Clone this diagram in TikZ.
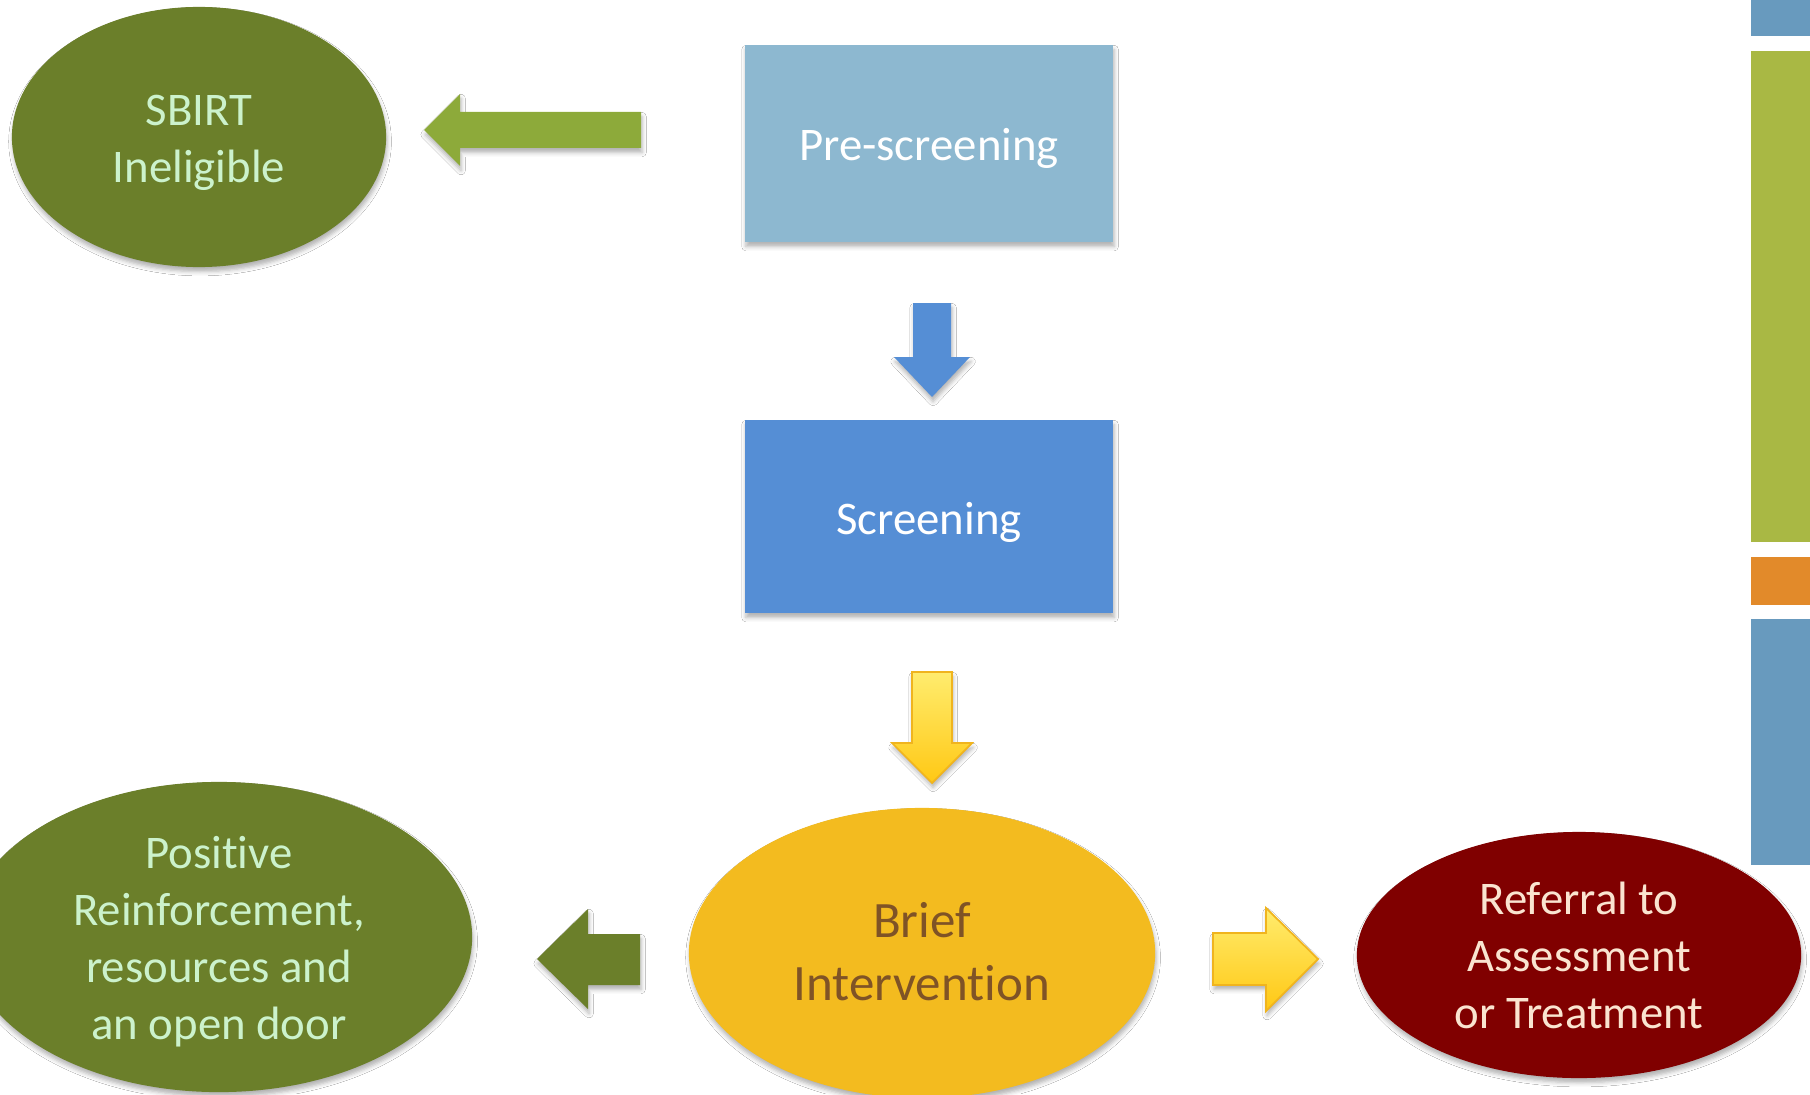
\documentclass[tikz,border=0pt]{standalone}
\usepackage{fontspec}
\setmainfont{Carlito}[Ligatures={NoCommon,NoContextual,NoRare}, Contextuals=NoAlternate]
\usetikzlibrary{shapes.geometric,shadows.blur}

\definecolor{sbOlive}{RGB}{107,127,42}
\definecolor{sbLime}{RGB}{141,170,58}
\definecolor{sbMint}{RGB}{204,242,204}
\definecolor{sbSky}{RGB}{141,184,208}
\definecolor{sbBlue}{RGB}{85,142,213}
\definecolor{sbGold}{RGB}{243,187,31}
\definecolor{sbBrown}{RGB}{127,83,38}
\definecolor{sbYellowTop}{RGB}{255,236,110}
\definecolor{sbYellowBot}{RGB}{255,200,20}
\definecolor{sbYellowEdge}{RGB}{240,180,30}
\definecolor{sbMaroon}{RGB}{128,0,0}
\definecolor{sbPeach}{RGB}{250,228,208}
\definecolor{sbBarBlue}{RGB}{104,154,190}
\definecolor{sbBarGreen}{RGB}{169,184,68}
\definecolor{sbBarOrange}{RGB}{226,138,42}

\tikzset{
  soft/.style={blur shadow={shadow xshift=0.3pt, shadow yshift=-1.3pt,
      shadow blur radius=1.2pt, shadow opacity=30}},
  basetext/.style={align=center, inner sep=0pt,
      font=\fontsize{13.3pt}{16.2pt}\selectfont},
  stepbox/.style={rectangle, soft, inner sep=0pt},
  oval/.style={ellipse, soft, inner sep=0pt},
  goldarrow/.style={soft, top color=sbYellowTop, bottom color=sbYellowBot,
      draw=sbYellowEdge, line width=0.5pt, line join=miter},
}

\begin{document}
\begin{tikzpicture}[x=0.01cm, y=-0.01cm]
  % page area
  \fill[white] (0,0) rectangle (1810,1094);
  \clip (0,0) rectangle (1810,1094);

  % colour bars along the right edge
  \fill[sbBarBlue]   (1751,0)   rectangle (1810,36);
  \fill[sbBarGreen]  (1751,51)  rectangle (1810,542);
  \fill[sbBarOrange] (1751,557) rectangle (1810,605);
  \fill[sbBarBlue]   (1751,619) rectangle (1810,865);

  % process steps
  \node[stepbox, fill=sbSky, minimum width=3.68cm, minimum height=1.97cm]
    (pre) at (929,143.5) {};
  \node[basetext, text=white] (pre-t) at ([yshift=-1.3pt]pre.center) {Pre-screening};
  \node[stepbox, fill=sbBlue, minimum width=3.68cm, minimum height=1.93cm]
    (screen) at (929,516.5) {};
  \node[basetext, text=white] (screen-t) at ([yshift=-1.6pt]screen.center) {Screening};

  % outcomes
  \node[oval, fill=sbOlive, minimum width=3.74cm, minimum height=2.60cm]
    (inelig) at (199,137) {};
  \node[basetext, text=sbMint] (inelig-t) at ([yshift=-1.6pt]inelig.center)
    {SBIRT\\Ineligible};
  \node[oval, fill=sbGold, minimum width=4.66cm, minimum height=2.90cm]
    (brief) at (922,953) {};
  % the kern keeps t and i as separate glyphs
  \node[basetext, text=sbBrown, font=\fontsize{14.5pt}{18.0pt}\selectfont]
    (brief-t) at ([yshift=0.3pt]brief.center) {Brief\\Interven\kern0pt tion};
  \node[oval, fill=sbOlive, minimum width=5.06cm, minimum height=3.10cm]
    (positive) at (219,937) {};
  \node[basetext, text=sbMint] (positive-t) at ([yshift=-1.3pt]positive.center)
    {Positive\\Reinforcement,\\resources and\\an open door};
  \node[oval, fill=sbMaroon, minimum width=4.44cm, minimum height=2.46cm]
    (referral) at (1579,955) {};
  \node[basetext, text=sbPeach] (referral-t) at (referral.center)
    {Referral to\\Assessment\\or Treatment};

  % block arrows between the steps
  % pre-screening -> ineligible
  \fill[sbLime, soft] (424,130) -- (460,94) -- (460,112) -- (641,112)
    -- (641,148) -- (460,148) -- (460,166) -- cycle;
  % pre-screening -> screening
  \fill[sbBlue, soft] (913,303) -- (951,303) -- (951,357) -- (970,357)
    -- (932,397) -- (894,357) -- (913,357) -- cycle;
  % screening -> brief intervention
  \shade[goldarrow] (912,672) -- (952,672) -- (952,743) -- (972,743)
    -- (932,783) -- (892,743) -- (912,743) -- cycle;
  % brief intervention -> positive reinforcement
  \fill[sbOlive, soft] (537,959) -- (588,909) -- (588,934) -- (640,934)
    -- (640,985) -- (588,985) -- (588,1009) -- cycle;
  % brief intervention -> referral
  \shade[goldarrow] (1213,933) -- (1266,933) -- (1266,908) -- (1318,959)
    -- (1266,1011) -- (1266,985) -- (1213,985) -- cycle;
\end{tikzpicture}
\end{document}
